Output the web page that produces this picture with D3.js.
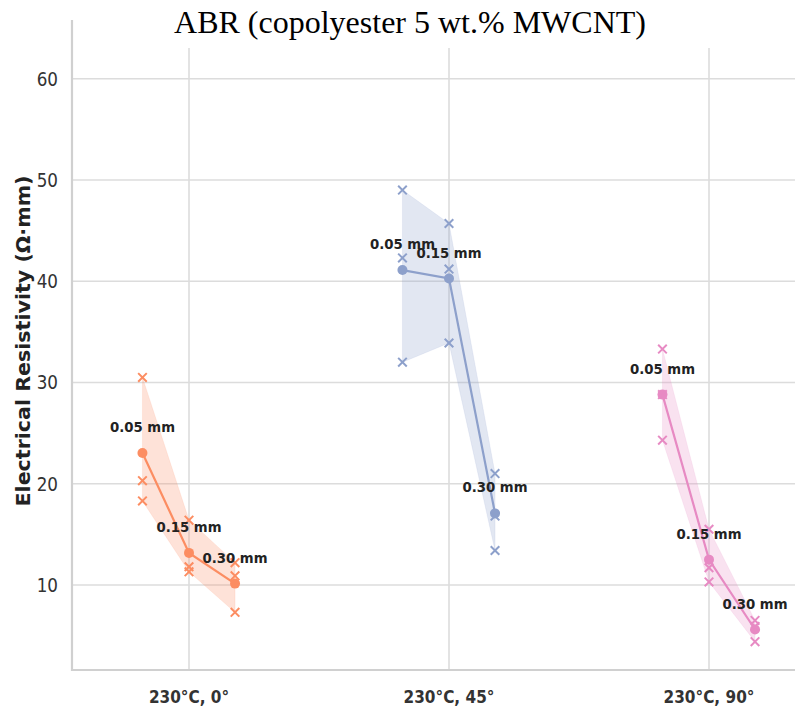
<!DOCTYPE html>
<html>
<head>
<meta charset="utf-8">
<script src="https://cdn.jsdelivr.net/npm/d3@7"></script>
<style>
  body { margin: 0; background: #fff; }
  svg { display: block; }
</style>
</head>
<body>
<div id="chart"></div>
<script>

// data
var categories = ["230°C, 0°", "230°C, 45°", "230°C, 90°"];
var thickness  = ["0.05 mm", "0.15 mm", "0.30 mm"];
var offsets    = [-0.179, 0, 0.177];   // dodge of each thickness inside a category
var colors     = ["#fc8d62", "#8da0cb", "#e78ac3"];

// three replicate measurements per thickness, one list per category
var reps0  = [[30.5, 20.3, 18.3], [16.4, 11.8, 11.3], [12.2, 10.9, 7.3]];
var reps45 = [[49.0, 42.3, 32.0], [45.7, 41.2, 33.9], [21.0, 16.8, 13.4]];
var reps90 = [[33.3, 28.8, 24.3], [15.5, 11.7, 10.3], [6.5, 5.9, 4.4]];

var yTicks = [10, 20, 30, 40, 50, 60];

var width = 795, height = 709;

var svg = d3.select("#chart").append("svg")
  .attr("width", width).attr("height", height);

var x = d3.scaleLinear().domain([-0.5, 2.5]).range([59, 839]);
var y = d3.scaleLinear().domain([1.6, 65.8]).range([670, 20]);

var spineX = 72, bottom = 670;
var gridColor = "#dcdcdc";

// helper for the squeezed-looking text of the original
function label(g, txt, px, py, sx, anchor) {
  return g.append("text")
    .attr("transform", "translate(" + px + "," + py + ") scale(" + sx + ",1)")
    .attr("text-anchor", anchor || "middle")
    .text(txt);
}

// grid
var grid = svg.append("g");
grid.selectAll(".hgrid").data(yTicks).enter().append("line")
  .attr("x1", spineX).attr("x2", width)
  .attr("y1", function(d) { return y(d); }).attr("y2", function(d) { return y(d); })
  .style("stroke", gridColor).style("stroke-width", 1.6);

grid.selectAll(".vgrid").data(categories).enter().append("line")
  .attr("x1", function(d, i) { return x(i); }).attr("x2", function(d, i) { return x(i); })
  .attr("y1", 48).attr("y2", bottom)
  .style("stroke", gridColor).style("stroke-width", 1.6);

// spines
svg.append("line").attr("x1", spineX).attr("x2", spineX).attr("y1", 20).attr("y2", bottom + 1)
  .style("stroke", "#d0d0d0").style("stroke-width", 2.2);
svg.append("line").attr("x1", spineX - 1).attr("x2", width).attr("y1", bottom).attr("y2", bottom)
  .style("stroke", "#d0d0d0").style("stroke-width", 2.2);

// y tick labels
var yt = svg.append("g")
  .style("font-family", "'DejaVu Sans', sans-serif")
  .style("font-size", "20px").style("fill", "#333");
yTicks.forEach(function(t) { label(yt, t, 58, y(t) + 7, 0.84, "end"); });

// y axis title
svg.append("text")
  .attr("transform", "translate(30,341) rotate(-90) scale(1.03,1)")
  .attr("text-anchor", "middle")
  .style("font-family", "'DejaVu Sans', sans-serif")
  .style("font-weight", "bold").style("font-size", "20px").style("fill", "#222")
  .text("Electrical Resistivity (Ω·mm)");

// x tick labels
var xt = svg.append("g")
  .style("font-family", "'DejaVu Sans', sans-serif")
  .style("font-weight", "bold").style("font-size", "18px").style("fill", "#333");
categories.forEach(function(c, i) { label(xt, c, x(i), 703, 0.85); });

// title
svg.append("text")
  .attr("x", 410).attr("y", 33)
  .attr("text-anchor", "middle")
  .style("font-family", "'Liberation Serif', 'Times New Roman', serif")
  .style("font-size", "32px").style("fill", "#000")
  .text("ABR (copolyester 5 wt.% MWCNT)");

// one group per category
var groups = [reps0, reps45, reps90];

groups.forEach(function(reps, ci) {
  var col = colors[ci];
  var pts = reps.map(function(r, ti) {
    return { t: thickness[ti], xpos: x(ci + offsets[ti]), reps: r,
             mean: d3.mean(r), lo: d3.min(r), hi: d3.max(r) };
  });

  var g = svg.append("g");

  // min-max band
  var area = d3.area()
    .x(function(d) { return d.xpos; })
    .y0(function(d) { return y(d.lo); })
    .y1(function(d) { return y(d.hi); });

  g.append("path").datum(pts)
    .attr("d", area)
    .style("fill", col).style("fill-opacity", 0.25)
    .style("stroke", col).style("stroke-opacity", 0.12);

  // mean line
  var line = d3.line()
    .x(function(d) { return d.xpos; })
    .y(function(d) { return y(d.mean); });

  g.append("path").datum(pts)
    .attr("d", line)
    .style("fill", "none").style("stroke", col).style("stroke-width", 2.2);

  g.selectAll("circle").data(pts).enter().append("circle")
    .attr("cx", function(d) { return d.xpos; })
    .attr("cy", function(d) { return y(d.mean); })
    .attr("r", 5)
    .style("fill", col);

  // replicate crosses
  var s = 4.3;
  pts.forEach(function(d) {
    d.reps.forEach(function(v) {
      var cx = d.xpos, cy = y(v);
      g.append("path")
        .attr("d", "M" + (cx - s) + "," + (cy - s) + "L" + (cx + s) + "," + (cy + s) +
                   "M" + (cx - s) + "," + (cy + s) + "L" + (cx + s) + "," + (cy - s))
        .style("stroke", col).style("stroke-width", 2).style("fill", "none");
    });
  });

  // thickness labels
  var lg = g.append("g")
    .style("font-family", "'DejaVu Sans', sans-serif")
    .style("font-weight", "bold").style("font-size", "14px").style("fill", "#222");
  pts.forEach(function(d) { label(lg, d.t, d.xpos, y(d.mean) - 21, 0.95); });
});

</script>
</body>
</html>
